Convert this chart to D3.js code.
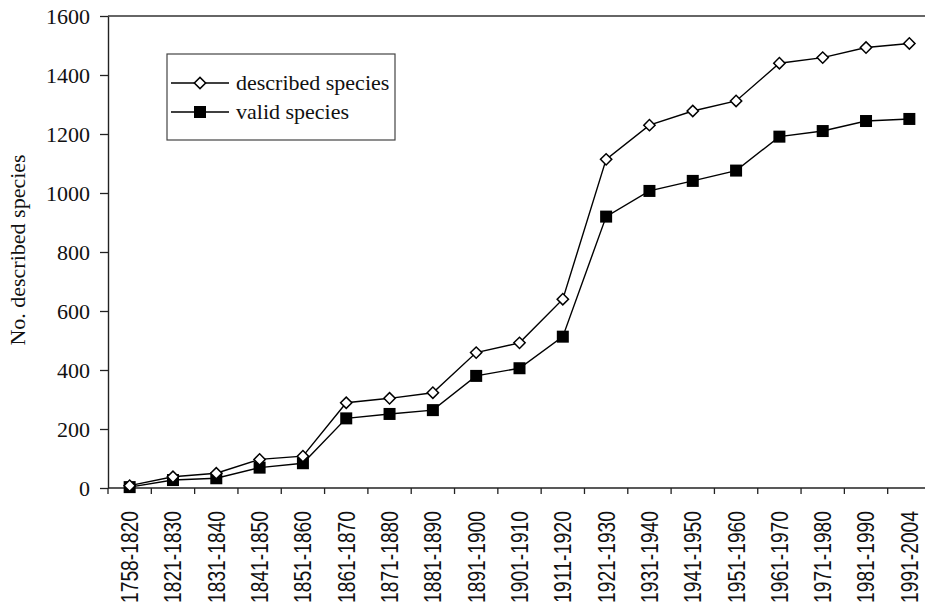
<!DOCTYPE html>
<html>
<head>
<meta charset="utf-8">
<script src="https://cdn.jsdelivr.net/npm/d3@7"></script>
<style>
  html, body { margin: 0; padding: 0; background: #fff; }
  svg { display: block; }
</style>
</head>
<body>
<script>
const categories = ["1758-1820","1821-1830","1831-1840","1841-1850","1851-1860","1861-1870","1871-1880","1881-1890","1891-1900","1901-1910","1911-1920","1921-1930","1931-1940","1941-1950","1951-1960","1961-1970","1971-1980","1981-1990","1991-2004"];
const describedSpecies = [8, 38, 50, 97, 108, 289, 304, 323, 459, 492, 640, 1114, 1230, 1278, 1312, 1440, 1459, 1493, 1507];
const validSpecies = [3, 27, 33, 69, 84, 236, 251, 264, 380, 406, 513, 920, 1007, 1041, 1076, 1191, 1210, 1244, 1251];
const yTicks = [0, 200, 400, 600, 800, 1000, 1200, 1400, 1600];
const seriesNames = ["described species", "valid species"];

const W = 925, H = 607;
const svg = d3.select("body").append("svg").attr("width", W).attr("height", H);

const x = d3.scaleBand().domain(categories).range([108, 931]).padding(0);
const y = d3.scaleLinear().domain([0, 1600]).range([488, 16]);
const cx = d => x(d) + x.bandwidth() / 2;

const serif = "Liberation Serif, Times New Roman, serif";
const sans = "Liberation Sans, Arial, sans-serif";
const axisColor = "#222";

// top frame line
svg.append("line").attr("x1", 108).attr("x2", W).attr("y1", y(1600)).attr("y2", y(1600))
  .attr("stroke", "#333").attr("stroke-width", 1.4);

// Y axis
const yAxis = svg.append("g").attr("transform", "translate(108,0)")
  .call(d3.axisLeft(y).tickValues(yTicks).tickFormat(d3.format("d")).tickSize(8).tickPadding(10).tickSizeOuter(0));
yAxis.attr("font-family", serif).attr("font-size", 22);
yAxis.select(".domain").attr("stroke", axisColor).attr("stroke-width", 1.4);
yAxis.selectAll(".tick line").attr("stroke", axisColor).attr("stroke-width", 1.3);
yAxis.selectAll(".tick text").attr("fill", "#111");

// X axis line
svg.append("line").attr("x1", 108).attr("x2", 931).attr("y1", y(0)).attr("y2", y(0))
  .attr("stroke", axisColor).attr("stroke-width", 1.4);
// X boundary ticks
const bounds = categories.map(c => x(c)).concat([x(categories[categories.length-1]) + x.bandwidth()]);
svg.append("g").selectAll("line").data(bounds).join("line")
  .attr("x1", d => d).attr("x2", d => d).attr("y1", y(0)).attr("y2", y(0) + 6)
  .attr("stroke", axisColor).attr("stroke-width", 1.3);
// X labels
svg.append("g").selectAll("text").data(categories).join("text")
  .attr("transform", d => `translate(${cx(d)},511) rotate(-90)`)
  .attr("text-anchor", "end").attr("dy", "0.36em")
  .attr("font-family", sans).attr("font-size", 23.5).attr("fill", "#111")
  .attr("textLength", 92).attr("lengthAdjust", "spacingAndGlyphs")
  .text(d => d);

// Y axis title
svg.append("text").attr("transform", "translate(25,250) rotate(-90)")
  .attr("text-anchor", "middle").attr("font-family", serif).attr("font-size", 22).attr("fill", "#111")
  .text("No. described species");

// lines
const line = vals => d3.line().x((d, i) => cx(categories[i])).y(d => y(d))(vals);
svg.append("path").attr("d", line(describedSpecies)).attr("fill", "none").attr("stroke", "#000").attr("stroke-width", 1.4);
svg.append("path").attr("d", line(validSpecies)).attr("fill", "none").attr("stroke", "#000").attr("stroke-width", 1.4);

const diamond = d3.symbol().type(d3.symbolSquare).size(64);
// valid: filled squares
svg.append("g").selectAll("rect").data(validSpecies).join("rect")
  .attr("x", (d, i) => cx(categories[i]) - 6).attr("y", d => y(d) - 6)
  .attr("width", 12).attr("height", 12).attr("fill", "#000");
// described: open diamonds
svg.append("g").selectAll("path").data(describedSpecies).join("path")
  .attr("d", diamond)
  .attr("transform", (d, i) => `translate(${cx(categories[i])},${y(d)}) rotate(45)`)
  .attr("fill", "#fff").attr("stroke", "#000").attr("stroke-width", 1.5);

// legend
const lg = svg.append("g");
lg.append("rect").attr("x", 167).attr("y", 54).attr("width", 228).attr("height", 86)
  .attr("fill", "#fff").attr("stroke", "#444").attr("stroke-width", 1.2);
const ly = [83, 112];
seriesNames.forEach((name, i) => {
  lg.append("line").attr("x1", 171).attr("x2", 229).attr("y1", ly[i]).attr("y2", ly[i])
    .attr("stroke", "#000").attr("stroke-width", 1.3);
  if (i === 0) {
    lg.append("path").attr("d", diamond).attr("transform", `translate(200,${ly[i]}) rotate(45)`)
      .attr("fill", "#fff").attr("stroke", "#000").attr("stroke-width", 1.5);
  } else {
    lg.append("rect").attr("x", 194).attr("y", ly[i] - 6).attr("width", 12).attr("height", 12).attr("fill", "#000");
  }
  lg.append("text").attr("x", 236).attr("y", ly[i]).attr("dy", "0.33em")
    .attr("font-family", serif).attr("font-size", 22).attr("fill", "#111").text(name);
});
</script>
</body>
</html>
